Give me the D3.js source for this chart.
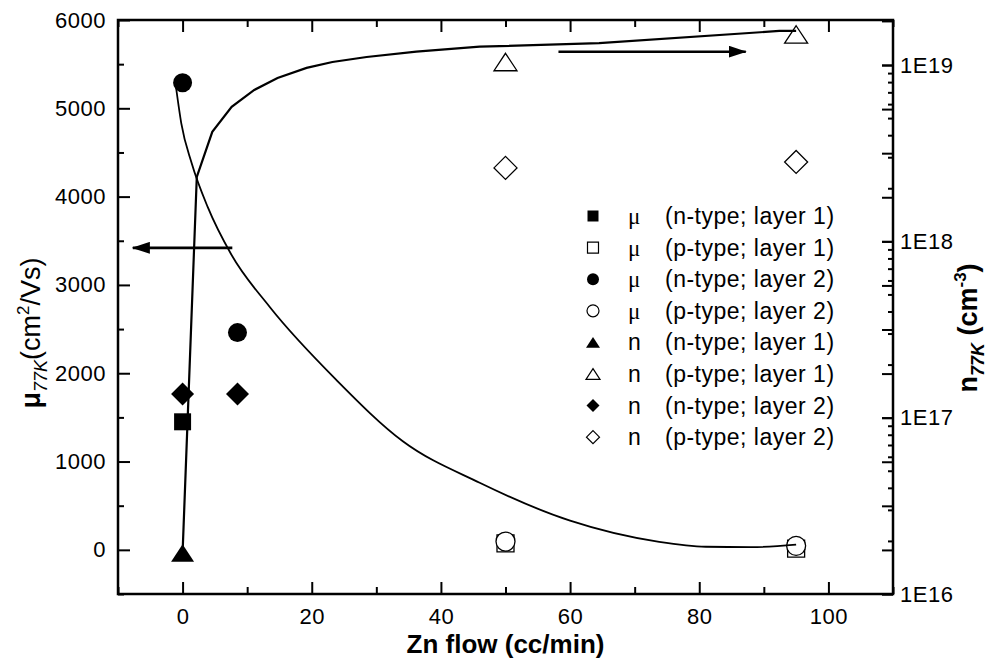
<!DOCTYPE html>
<html>
<head>
<meta charset="utf-8">
<script src="https://cdn.jsdelivr.net/npm/d3@7"></script>
<style>
  body { margin: 0; background: #fff; }
  svg { display: block; font-family: "Liberation Sans", Arial, sans-serif; }
  .tick text { font-size: 22px; letter-spacing: 0.5px; fill: #000; font-family: "Liberation Sans", Arial, sans-serif; }
  .tick line { stroke: #000; stroke-width: 2; }
</style>
</head>
<body>
<svg width="992" height="664"></svg>
<script>
// mobility points (left axis, cm2/Vs)
var muNType1 = [[0, 1450]];
var muPType1 = [[50, 73], [95, 14]];
var muNType2 = [[0, 5290], [8.5, 2460]];
var muPType2 = [[50, 94], [95, 45]];

// carrier concentration points (right axis, cm-3)
var nNType1 = [[0, 1.71e16]];
var nPType1 = [[50, 1.04e19], [95, 1.49e19]];
var nNType2 = [[0, 1.36e17], [8.5, 1.36e17]];
var nPType2 = [[50, 2.61e18], [95, 2.82e18]];

// guide curves
var muCurve = [[-1, 5230], [-0.2, 4830], [1.4, 4380], [3.9, 3880], [7.5, 3350], [13.5, 2750],
    [23.8, 1925], [34.1, 1230], [46, 760], [60, 330], [73.8, 90], [81, 35], [88, 30], [95, 60]];
var nCurve = [[0, 1.71e16], [2.2, 2.32e18], [4.6, 4.18e18], [7.6, 5.79e18], [11.1, 7.22e18],
    [14.7, 8.45e18], [19.2, 9.63e18], [23.2, 1.04e19], [28.5, 1.11e19], [36.2, 1.19e19],
    [46, 1.27e19], [64.5, 1.33e19], [92.4, 1.56e19], [95, 1.56e19]];

// arrows pointing at the axis each curve belongs to
var arrowMu = [[7.7, 3420], [-7.7, 3420]];
var arrowN = [[58.2, 1.19e19], [87.2, 1.19e19]];

var xTicks = [0, 20, 40, 60, 80, 100];
var xMinor = [-10, 10, 30, 50, 70, 90, 110];
var muTicks = [0, 1000, 2000, 3000, 4000, 5000, 6000];
var muMinor = [-500, 500, 1500, 2500, 3500, 4500, 5500];
var nTicks = [1e16, 1e17, 1e18, 1e19];

var svg = d3.select("svg"),
    plotLeft = 118, plotRight = 893, plotTop = 20, plotBottom = 594;

var x = d3.scaleLinear().domain([-10, 110]).range([plotLeft, plotRight]),
    yMu = d3.scaleLinear().domain([-500, 6000]).range([plotBottom, plotTop]),
    yN = d3.scaleLog().domain([1e16, 1.8e19]).range([plotBottom, plotTop]);

// marker shapes
function shape(type, s) {
    var h = s / 2;
    if (type == "square") return "M" + -h + "," + -h + "h" + s + "v" + s + "h" + -s + "Z";
    if (type == "circle") return d3.symbol(d3.symbolCircle, Math.PI * h * h)();
    if (type == "triangle") {
        var th = s * 0.76 / 2;
        return "M0," + -th + "L" + h + "," + th + "L" + -h + "," + th + "Z";
    }
    return "M0," + -h + "L" + h + ",0L0," + h + "L" + -h + ",0Z";
}

var series = [
    {data: muPType1, axis: yMu, type: "square", filled: false, size: 17, sym: "\u03bc", label: "(p-type; layer 1)", row: 1},
    {data: muPType2, axis: yMu, type: "circle", filled: false, size: 19, sym: "\u03bc", label: "(p-type; layer 2)", row: 3},
    {data: muNType1, axis: yMu, type: "square", filled: true, size: 17, sym: "\u03bc", label: "(n-type; layer 1)", row: 0},
    {data: muNType2, axis: yMu, type: "circle", filled: true, size: 19, sym: "\u03bc", label: "(n-type; layer 2)", row: 2},
    {data: nNType1, axis: yN, type: "triangle", filled: true, size: 23, sym: "n", label: "(n-type; layer 1)", row: 4},
    {data: nPType1, axis: yN, type: "triangle", filled: false, size: 23, sym: "n", label: "(p-type; layer 1)", row: 5},
    {data: nNType2, axis: yN, type: "diamond", filled: true, size: 23, sym: "n", label: "(n-type; layer 2)", row: 6},
    {data: nPType2, axis: yN, type: "diamond", filled: false, size: 23, sym: "n", label: "(p-type; layer 2)", row: 7}
];
var legendSize = {square: 11, circle: 12, triangle: 14, diamond: 13};

// Axes (ticks point into the frame)
svg.append("g")
    .attr("transform", "translate(0," + plotBottom + ")")
    .call(d3.axisBottom(x).tickValues(xTicks).tickSize(-12).tickPadding(14));
svg.append("g")
    .attr("transform", "translate(0," + plotBottom + ")")
    .call(d3.axisBottom(x).tickValues(xMinor).tickSize(-7).tickFormat(""));
svg.append("g")
    .attr("transform", "translate(0," + plotTop + ")")
    .call(d3.axisTop(x).tickValues(xTicks).tickSize(-12).tickFormat(""));
svg.append("g")
    .attr("transform", "translate(0," + plotTop + ")")
    .call(d3.axisTop(x).tickValues(xMinor).tickSize(-7).tickFormat(""));

svg.append("g")
    .attr("transform", "translate(" + plotLeft + ",0)")
    .call(d3.axisLeft(yMu).tickValues(muTicks).tickSize(-12).tickPadding(12).tickFormat(d3.format("d")));
svg.append("g")
    .attr("transform", "translate(" + plotLeft + ",0)")
    .call(d3.axisLeft(yMu).tickValues(muMinor).tickSize(-6).tickFormat(""));

// log axis: labelled decades, quarter-decade ticks and short 2..9 ticks
var quarter = d3.range(0, 14).map(function(k) { return Math.pow(10, 16 + k / 4); })
    .filter(function(v) { return v <= 1.8e19; });
var logMinor = [];
[16, 17, 18].forEach(function(e) {
    d3.range(2, 10).forEach(function(m) {
        if (m * Math.pow(10, e) <= 1.8e19) logMinor.push(m * Math.pow(10, e));
    });
});
svg.append("g")
    .attr("transform", "translate(" + plotRight + ",0)")
    .call(d3.axisRight(yN).tickValues(nTicks).tickSize(-11).tickPadding(7)
        .tickFormat(function(d) { return "1E" + Math.round(Math.log10(d)); }));
svg.append("g")
    .attr("transform", "translate(" + plotRight + ",0)")
    .call(d3.axisRight(yN).tickValues(quarter).tickSize(-11).tickFormat(""));
svg.append("g")
    .attr("transform", "translate(" + plotRight + ",0)")
    .call(d3.axisRight(yN).tickValues(logMinor).tickSize(-5).tickFormat(""));

svg.selectAll(".domain").remove();

// frame
svg.append("rect")
    .attr("x", plotLeft).attr("y", plotTop)
    .attr("width", plotRight - plotLeft).attr("height", plotBottom - plotTop)
    .attr("fill", "none").attr("stroke", "#000").attr("stroke-width", 2.5);

// points
series.forEach(function(s) {
    svg.append("g").selectAll("path")
        .data(s.data)
        .enter().append("path")
        .attr("d", shape(s.type, s.size))
        .attr("transform", function(d) { return "translate(" + x(d[0]) + "," + s.axis(d[1]) + ")"; })
        .attr("fill", s.filled ? "#000" : (s.type == "circle" ? "#fff" : "none"))
        .attr("stroke", "#000")
        .attr("stroke-width", s.filled ? 0 : 1.3);
});

// curves
svg.append("path")
    .attr("d", d3.line().curve(d3.curveMonotoneX)
        .x(function(d) { return x(d[0]); })
        .y(function(d) { return yMu(d[1]); })(muCurve))
    .attr("fill", "none").attr("stroke", "#000").attr("stroke-width", 1.8);
svg.append("path")
    .attr("d", d3.line()
        .x(function(d) { return x(d[0]); })
        .y(function(d) { return yN(d[1]); })(nCurve))
    .attr("fill", "none").attr("stroke", "#000").attr("stroke-width", 2.2);

// arrows
svg.append("defs").append("marker")
    .attr("id", "head")
    .attr("markerUnits", "userSpaceOnUse")
    .attr("viewBox", "0 0 18 12")
    .attr("refX", 17).attr("refY", 6)
    .attr("markerWidth", 18).attr("markerHeight", 12)
    .attr("orient", "auto")
    .append("path").attr("d", "M0,0L18,6L0,12Z").attr("fill", "#000");

[[arrowMu, yMu], [arrowN, yN]].forEach(function(a) {
    svg.append("line")
        .attr("x1", x(a[0][0][0])).attr("y1", a[1](a[0][0][1]))
        .attr("x2", x(a[0][1][0])).attr("y2", a[1](a[0][1][1]))
        .attr("stroke", "#000").attr("stroke-width", 2.6)
        .attr("marker-end", "url(#head)");
});

// legend
var legend = svg.append("g").selectAll("g")
    .data(series)
    .enter().append("g")
    .attr("transform", function(d) { return "translate(593," + (216 + d.row * 31.6) + ")"; });
legend.append("path")
    .attr("d", function(d) { return shape(d.type, legendSize[d.type]); })
    .attr("fill", function(d) { return d.filled ? "#000" : "#fff"; })
    .attr("stroke", "#000")
    .attr("stroke-width", function(d) { return d.filled ? 0 : 1.2; });
legend.append("text")
    .attr("x", 35).attr("dy", "0.35em")
    .style("font-size", "23px")
    .style("font-family", function(d) { return d.sym == "n" ? "Liberation Sans" : "Liberation Serif"; })
    .text(function(d) { return d.sym; });
legend.append("text")
    .attr("x", 72).attr("dy", "0.35em")
    .style("font-size", "23px")
    .style("letter-spacing", "0.5px")
    .text(function(d) { return d.label; });

// axis titles
svg.append("text")
    .attr("x", (plotLeft + plotRight) / 2).attr("y", 653)
    .attr("text-anchor", "middle")
    .style("font-size", "26px").style("font-weight", "bold")
    .text("Zn flow (cc/min)");

var tl = svg.append("text")
    .attr("transform", "translate(40,333) rotate(-90)")
    .attr("text-anchor", "middle")
    .style("font-size", "27px");
tl.append("tspan").style("font-weight", "bold").text("\u03bc");
tl.append("tspan").attr("dy", 7).style("font-size", "18px").style("font-style", "italic").text("77K");
tl.append("tspan").attr("dy", -7).text("(cm");
tl.append("tspan").attr("dy", -11).style("font-size", "17px").text("2");
tl.append("tspan").attr("dy", 11).text("/Vs)");

var tr = svg.append("text")
    .attr("transform", "translate(977,328) rotate(-90)")
    .attr("text-anchor", "middle")
    .style("font-size", "27px").style("font-weight", "bold");
tr.append("tspan").text("n");
tr.append("tspan").attr("dy", 7).style("font-size", "18px").style("font-style", "italic").text("77K");
tr.append("tspan").attr("dy", -7).text(" (cm");
tr.append("tspan").attr("dy", -11).style("font-size", "17px").text("-3");
tr.append("tspan").attr("dy", 11).text(")");
</script>
</body>
</html>
